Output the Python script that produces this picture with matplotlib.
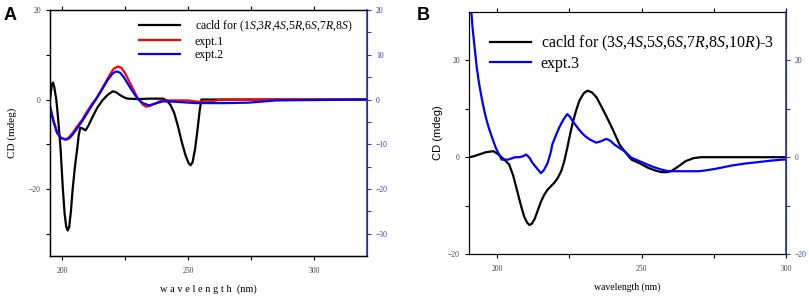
import numpy as np
import matplotlib.pyplot as plt

plt.rcParams['font.family'] = ['Liberation Serif', 'DejaVu Sans']
plt.rcParams['mathtext.fontset'] = 'custom'
plt.rcParams['mathtext.rm'] = 'Liberation Serif'
plt.rcParams['mathtext.it'] = 'Liberation Serif:italic'

# panel A: calculated ECD (black), experimental 1 (red), experimental 2 (blue, right axis)
a_calc_wl = [195.2, 195.6, 196.0, 196.4, 196.9, 197.4, 197.7, 198.3, 198.9, 199.4, 200.3, 201.0,
             201.6, 202.2, 202.8, 203.5, 204.2, 205.1, 206.0, 206.6, 207.2, 208.2, 209.3, 210.5,
             212.0, 214.0, 216.0, 218.0, 220.1, 221.5, 223.0, 224.5, 226.0, 230.0, 235.0, 240.0,
             241.5, 243.0, 244.5, 246.0, 247.5, 249.0, 250.2, 251.0, 251.8, 252.8, 253.8, 254.6,
             255.3, 260.0, 280.0, 300.0, 321.0]
a_calc_cd = [0.0, 1.8, 3.5, 3.8, 2.8, 1.0, 0.0, -3.5, -7.5, -11.0, -20.0, -25.5,
             -28.3, -29.3, -28.6, -25.0, -20.0, -15.0, -11.0, -8.0, -6.3, -6.5, -6.9, -5.8,
             -4.0, -1.8, -0.2, 1.0, 1.85, 1.6, 1.0, 0.5, 0.2, 0.1, 0.2, 0.2,
             -0.2, -1.2, -3.0, -6.0, -9.5, -12.5, -14.2, -14.7, -14.0, -11.0, -6.5, -2.5,
             0.0, 0.0, 0.0, 0.0, 0.0]

a_exp1_wl = [195.2, 196.5, 198.0, 199.5, 201.0, 202.5, 204.0, 206.0, 208.0, 210.0, 212.0, 213.5,
             215.0, 217.0, 219.0, 220.5, 222.2, 223.5, 225.0, 226.5, 228.3, 230.0, 231.0, 232.2,
             233.4, 235.0, 237.0, 238.7, 241.0, 250.0, 254.0, 259.0, 262.0, 280.0, 321.0]
a_exp1_cd = [-1.5, -4.5, -7.2, -8.5, -8.9, -8.6, -7.6, -6.0, -4.5, -2.6, -0.9, 0.2,
             1.6, 3.6, 5.6, 6.9, 7.4, 7.1, 5.9, 4.2, 2.2, 0.3, -0.4, -1.2,
             -1.6, -1.4, -0.9, -0.4, -0.2, -0.2, -0.5, -0.5, -0.1, 0.0, 0.0]

a_exp2_wl = [195.2, 196.5, 198.0, 199.5, 201.6, 203.0, 204.5, 206.0, 208.0, 210.0, 212.0, 214.0,
             216.0, 218.0, 220.0, 221.5, 223.0, 224.5, 226.0, 228.0, 230.0, 232.0, 234.5, 237.0,
             240.0, 245.0, 253.0, 265.0, 274.0, 285.0, 321.0]
a_exp2_cd = [-1.5, -4.8, -7.5, -8.6, -9.0, -8.6, -7.6, -6.4, -4.8, -3.0, -1.2, 0.5,
             2.4, 4.3, 5.8, 6.3, 6.0, 5.0, 3.6, 1.8, 0.2, -0.8, -1.3, -0.9,
             -0.4, -0.5, -0.8, -0.8, -0.7, -0.2, 0.0]

a_legend = [r'cacld for (1$\it{S}$,3$\it{R}$,4$\it{S}$,5$\it{R}$,6$\it{S}$,7$\it{R}$,8$\it{S}$)',
            'expt.1', 'expt.2']

# panel B: calculated ECD (black) and experimental 3 (blue, right axis)
b_calc_wl = [190.5, 192.0, 194.0, 196.0, 198.7, 200.7, 202.5, 204.2, 205.6, 207.0, 208.2, 209.4,
             210.4, 211.2, 212.0, 213.0, 214.1, 215.2, 216.3, 217.5, 219.8, 221.0, 222.2, 223.2,
             224.3, 225.2, 226.1, 227.3, 228.5, 230.0, 231.3, 232.8, 234.4, 236.0, 237.8, 240.0,
             242.4, 244.7, 246.5, 249.5, 252.3, 255.0, 257.0, 258.8, 260.5, 263.0, 265.3, 268.0,
             270.5, 280.0, 300.0]
b_calc_cd = [0.0, 0.2, 0.6, 1.0, 1.25, 0.5, -0.5, -1.5, -3.8, -7.0, -9.8, -12.3,
             -13.5, -14.0, -13.8, -12.8, -11.0, -9.2, -7.8, -6.7, -5.3, -4.3, -2.9, -1.0,
             1.9, 4.5, 6.9, 9.5, 11.7, 13.2, 13.75, 13.4, 12.4, 10.6, 8.5, 5.8,
             2.6, 0.8, -0.5, -1.3, -2.2, -2.8, -3.1, -3.1, -2.8, -1.8, -0.8, -0.2,
             0.0, 0.0, 0.0]

b_exp3_wl = [190.6, 191.0, 191.5, 192.1, 193.0, 193.8, 194.7, 195.6, 196.4, 197.3, 198.5, 199.6,
             200.5, 201.6, 203.8, 206.2, 207.8, 209.0, 210.1, 211.2, 212.3, 213.8, 215.2, 216.3,
             217.5, 218.7, 219.1, 220.3, 221.5, 223.0, 224.3, 225.2, 226.1, 227.6, 229.2, 230.6,
             232.0, 234.3, 236.0, 237.8, 239.2, 240.6, 244.1, 246.5, 250.0, 253.5, 256.5, 259.3,
             264.0, 269.8, 272.5, 275.6, 281.4, 286.0, 290.6, 295.0, 298.7, 300.0]
b_exp3_cd = [36.0, 31.0, 27.0, 23.5, 18.5, 15.2, 12.2, 9.6, 7.6, 5.8, 3.7, 1.9,
             0.8, -0.5, -0.5, 0.0, 0.0, 0.2, 0.55, -0.1, -1.2, -2.3, -3.3, -2.6,
             -1.2, 1.25, 2.6, 4.4, 6.1, 7.8, 8.9, 8.4, 7.5, 6.3, 5.1, 4.3,
             3.7, 3.0, 3.3, 3.8, 3.4, 2.6, 1.25, -0.1, -1.0, -1.9, -2.5, -2.9,
             -2.9, -2.9, -2.7, -2.4, -1.7, -1.3, -1.0, -0.7, -0.5, -0.5]

b_legend = [r'cacld for (3$\it{S}$,4$\it{S}$,5$\it{S}$,6$\it{S}$,7$\it{R}$,8$\it{S}$,10$\it{R}$)-3',
            'expt.3']

blue = '#0000ff'
axblue = '#3333cc'

fig = plt.figure(figsize=(8.09, 2.97), dpi=100)

# ---------------- panel A ----------------
ax1 = fig.add_axes([0.0618, 0.138, 0.3918, 0.828])
ax1r = ax1.twinx()
l1, = ax1.plot(a_calc_wl, a_calc_cd, color='black', lw=1.6)
l2, = ax1.plot(a_exp1_wl, a_exp1_cd, color='red', lw=1.6)
l3, = ax1r.plot(a_exp2_wl, a_exp2_cd, color=blue, lw=1.6)
for ax in (ax1, ax1r):
    ax.set_ylim(-35, 20)
ax1.set_xlim(195.2, 321)
ax1.set_xticks([200, 250, 300])
ax1.set_xticks([225, 275], minor=True)
ax1.set_yticks([-20, 0, 20])
ax1.set_yticks([-30, -10, 10], minor=True)
ax1r.set_yticks([-30, -20, -10, 0, 10, 20])
ax1r.set_yticks([-25, -15, -5, 5, 15], minor=True)
ax1.tick_params(axis='both', which='both', direction='out', labelsize=5.5, labelcolor='#444444',
                length=3, width=0.8)
ax1.tick_params(axis='x', which='both', top=True)
ax1.tick_params(axis='x', which='major', pad=5)
ax1r.tick_params(axis='y', which='both', direction='out', colors=axblue, labelsize=5.5, length=3, width=0.8)
ax1r.spines['right'].set_color(axblue)
ax1r.spines['right'].set_linewidth(1.2)
for s in ('left', 'bottom', 'top'):
    ax1.spines[s].set_linewidth(1.0)
ax1.set_ylabel('CD (mdeg)', fontsize=8, labelpad=9)
ax1.set_xlabel('w a v e l e n g t h  (nm)', fontsize=7.5, labelpad=7)
ax1r.legend([l1, l2, l3], a_legend, loc='upper left', bbox_to_anchor=(0.255, 1.0),
            frameon=False, fontsize=8.5, handlelength=3.5, handletextpad=1.2,
            labelspacing=0.15, borderaxespad=0.3)
fig.text(0.004, 0.975, 'A', fontsize=13, fontweight='bold', family='Liberation Sans', va='top')

# ---------------- panel B ----------------
ax2 = fig.add_axes([0.5797, 0.1448, 0.3919, 0.8148])
ax2r = ax2.twinx()
m1, = ax2.plot(b_calc_wl, b_calc_cd, color='black', lw=1.6)
m2, = ax2r.plot(b_exp3_wl, b_exp3_cd, color=blue, lw=1.6)
for ax in (ax2, ax2r):
    ax.set_ylim(-20, 30)
ax2.set_xlim(190.3, 300)
ax2.set_xticks([200, 250, 300])
ax2.set_xticks([225, 275], minor=True)
ax2.set_yticks([-20, 0, 20])
ax2.set_yticks([-10, 10], minor=True)
ax2r.set_yticks([-20, 0, 20])
ax2r.set_yticks([-10, 10], minor=True)
ax2.tick_params(axis='both', which='both', direction='out', labelsize=5.5, labelcolor='#444444',
                length=3, width=0.8)
ax2.tick_params(axis='x', which='both', top=True)
ax2.tick_params(axis='x', which='major', pad=5)
ax2r.tick_params(axis='y', which='both', direction='out', colors=axblue, labelsize=5.5, length=3, width=0.8)
ax2r.spines['right'].set_color(axblue)
ax2r.spines['right'].set_linewidth(1.2)
ax2.set_ylabel('CD (mdeg)', fontsize=8, family='Liberation Sans', labelpad=4)
ax2.set_xlabel('wavelength (nm)', fontsize=7, labelpad=7)
ax2r.legend([m1, m2], b_legend, loc='upper left', bbox_to_anchor=(0.03, 0.955),
            frameon=False, fontsize=11.5, handlelength=2.6, handletextpad=0.6,
            labelspacing=0.15, borderaxespad=0.3)
fig.text(0.515, 0.975, 'B', fontsize=13, fontweight='bold', family='Liberation Sans', va='top')

fig.savefig('out.png', dpi=100)
